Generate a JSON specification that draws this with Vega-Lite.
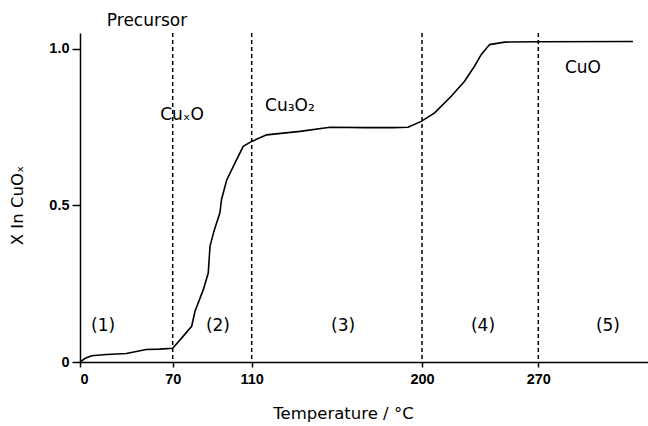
{
  "$schema": "https://vega.github.io/schema/vega-lite/v6.json",
  "width": 568,
  "height": 329,
  "autosize": {"type": "none"},
  "padding": {"left": 80, "top": 33, "right": 0, "bottom": 64},
  "background": "white",
  "config": {
    "view": {"stroke": null},
    "font": "DejaVu Sans",
    "axis": {
      "grid": false,
      "domainColor": "black",
      "domainWidth": 1.5,
      "tickColor": "black",
      "tickWidth": 1.5,
      "labelColor": "black",
      "labelFont": "Liberation Sans",
      "labelFontWeight": "bold",
      "labelFontSize": 14.5,
      "titleColor": "black",
      "titleFont": "DejaVu Sans",
      "titleFontWeight": "normal",
      "titleFontSize": 16.5
    }
  },
  "datasets": {
    "curve": [
      {"t": 0, "x": 0.0},
      {"t": 4, "x": 0.012},
      {"t": 8.8, "x": 0.02},
      {"t": 20, "x": 0.024},
      {"t": 35, "x": 0.027},
      {"t": 50, "x": 0.04},
      {"t": 60, "x": 0.041},
      {"t": 70, "x": 0.044},
      {"t": 74.6, "x": 0.077},
      {"t": 79.6, "x": 0.114},
      {"t": 81.3, "x": 0.162},
      {"t": 85.5, "x": 0.231},
      {"t": 88, "x": 0.284},
      {"t": 88.9, "x": 0.37},
      {"t": 91, "x": 0.42},
      {"t": 93.9, "x": 0.476},
      {"t": 94.7, "x": 0.518},
      {"t": 97.3, "x": 0.58},
      {"t": 101.5, "x": 0.635},
      {"t": 105.7, "x": 0.688},
      {"t": 110, "x": 0.704},
      {"t": 117.9, "x": 0.725},
      {"t": 135.5, "x": 0.736},
      {"t": 151.4, "x": 0.749},
      {"t": 170, "x": 0.748},
      {"t": 185, "x": 0.748},
      {"t": 192.6, "x": 0.749},
      {"t": 199.6, "x": 0.768},
      {"t": 207.6, "x": 0.795},
      {"t": 217.6, "x": 0.848},
      {"t": 225.6, "x": 0.896},
      {"t": 231.6, "x": 0.944},
      {"t": 235.6, "x": 0.981},
      {"t": 240.7, "x": 1.013},
      {"t": 249.7, "x": 1.021},
      {"t": 270, "x": 1.022},
      {"t": 334.7, "x": 1.023}
    ],
    "bounds": [
      {"t": 70}, {"t": 110}, {"t": 200}, {"t": 270}
    ],
    "labels": [
      {"t": 50.6, "x": 1.088, "label": "Precursor", "align": "center"},
      {"t": 74.7, "x": 0.788, "label": "CuₓO", "align": "left"},
      {"t": 130.2, "x": 0.817, "label": "Cu₃O₂", "align": "left"},
      {"t": 300.5, "x": 0.938, "label": "CuO", "align": "center"},
      {"t": 17.4, "x": 0.115, "label": "(1)", "align": "center"},
      {"t": 92.9, "x": 0.115, "label": "(2)", "align": "center"},
      {"t": 158.3, "x": 0.115, "label": "(3)", "align": "center"},
      {"t": 236.7, "x": 0.115, "label": "(4)", "align": "center"},
      {"t": 317.6, "x": 0.115, "label": "(5)", "align": "center"}
    ]
  },
  "encoding": {
    "x": {
      "field": "t",
      "type": "quantitative",
      "scale": {
        "domain": [0, 70, 110, 200, 270, 345],
        "range": [0, 92.7, 171.7, 342, 458.3, 568]
      },
      "axis": {
        "title": "Temperature / °C",
        "values": [0, 70, 110, 200, 270],
        "tickSize": 5,
        "labelPadding": 5,
        "titleX": 263,
        "titleY": 51,
        "titleAlign": "center",
        "titleBaseline": "middle"
      }
    },
    "y": {
      "field": "x",
      "type": "quantitative",
      "scale": {"domain": [0, 1.05], "nice": false, "zero": true},
      "axis": {
        "title": "X In CuOₓ",
        "values": [0, 0.5, 1.0],
        "labelExpr": "datum.value == 0 ? '0' : format(datum.value, '.1f')",
        "tickSize": 8,
        "labelPadding": 3,
        "titleX": -63,
        "titleY": 172,
        "titleAngle": 270,
        "titleAlign": "center",
        "titleBaseline": "middle"
      }
    }
  },
  "layer": [
    {
      "data": {"name": "bounds"},
      "mark": {"type": "rule", "color": "black", "strokeWidth": 1.5, "strokeDash": [4, 3]},
      "encoding": {"y": null}
    },
    {
      "data": {"name": "curve"},
      "mark": {"type": "line", "color": "black", "strokeWidth": 1.6, "interpolate": "linear"}
    },
    {
      "data": {"name": "labels"},
      "mark": {"type": "text", "font": "DejaVu Sans", "fontSize": 17, "color": "black", "baseline": "middle"},
      "encoding": {
        "text": {"field": "label"},
        "align": {"field": "align", "type": "nominal", "scale": null}
      }
    }
  ]
}
